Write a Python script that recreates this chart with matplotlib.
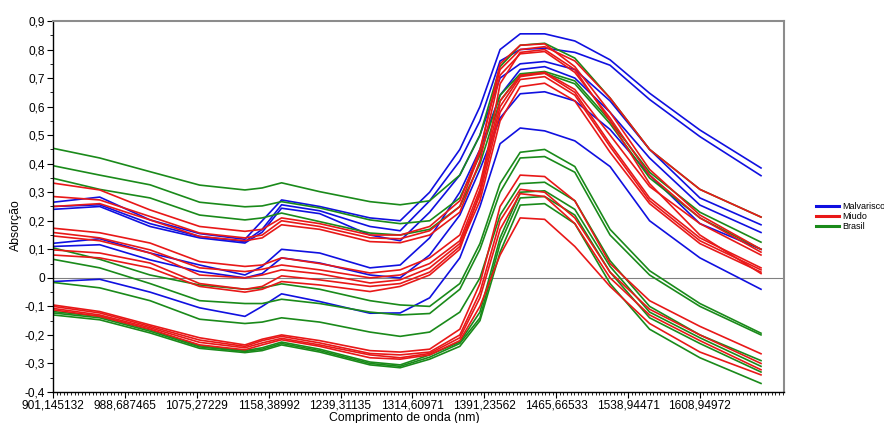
import matplotlib
matplotlib.use("Agg")
import matplotlib.pyplot as plt
from matplotlib.ticker import MultipleLocator, FixedLocator
from matplotlib.lines import Line2D

plt.rcParams['font.family'] = ['Liberation Sans', 'DejaVu Sans']

# spectral position (variable index) of the read points
x_pos = [0, 6.5, 13.5, 20.4, 26.7, 29.1, 31.8, 37.1, 44.1, 48.3, 52.4,
         56.6, 59.4, 62.2, 65.0, 68.4, 72.6, 77.5, 83.0, 90.0, 98.5]

tick_index = [0, 10, 20, 30, 40, 50, 60, 70, 80, 90]
tick_labels = ['901,145132', '988,687465', '1075,27229', '1158,38992', '1239,31135',
               '1314,60971', '1391,23562', '1465,66533', '1538,94471', '1608,94972']

malvarisco = [
    [0.265, 0.283, 0.203, 0.155, 0.135, 0.20, 0.273, 0.25, 0.21, 0.20, 0.30, 0.45, 0.60, 0.80, 0.855, 0.855, 0.83, 0.764, 0.647, 0.518, 0.385],
    [0.25, 0.256, 0.19, 0.145, 0.127, 0.17, 0.256, 0.235, 0.18, 0.165, 0.27, 0.41, 0.55, 0.76, 0.80, 0.805, 0.79, 0.745, 0.625, 0.495, 0.358],
    [0.24, 0.25, 0.18, 0.14, 0.122, 0.16, 0.244, 0.225, 0.15, 0.13, 0.23, 0.36, 0.50, 0.70, 0.75, 0.758, 0.73, 0.62, 0.45, 0.28, 0.186],
    [0.121, 0.137, 0.087, 0.045, 0.01, 0.04, 0.10, 0.087, 0.035, 0.045, 0.14, 0.30, 0.45, 0.64, 0.73, 0.74, 0.70, 0.58, 0.42, 0.255, 0.159],
    [0.11, 0.116, 0.063, 0.022, 0.0, 0.015, 0.07, 0.052, 0.01, 0.0, 0.08, 0.22, 0.38, 0.56, 0.645, 0.652, 0.62, 0.52, 0.36, 0.19, 0.10],
    [-0.013, -0.005, -0.05, -0.105, -0.135, -0.10, -0.056, -0.083, -0.124, -0.123, -0.07, 0.07, 0.25, 0.47, 0.525, 0.515, 0.48, 0.39, 0.20, 0.07, -0.04],
]

miudo = [
    [0.332, 0.308, 0.238, 0.18, 0.163, 0.17, 0.21, 0.19, 0.15, 0.15, 0.18, 0.27, 0.45, 0.73, 0.80, 0.81, 0.76, 0.63, 0.45, 0.31, 0.213],
    [0.285, 0.273, 0.215, 0.157, 0.14, 0.15, 0.20, 0.18, 0.14, 0.137, 0.165, 0.25, 0.44, 0.75, 0.815, 0.82, 0.74, 0.58, 0.38, 0.22, 0.10],
    [0.25, 0.26, 0.203, 0.145, 0.13, 0.14, 0.186, 0.17, 0.127, 0.123, 0.15, 0.23, 0.41, 0.71, 0.785, 0.793, 0.72, 0.56, 0.36, 0.21, 0.09],
    [0.174, 0.158, 0.122, 0.057, 0.04, 0.045, 0.07, 0.05, 0.017, 0.028, 0.07, 0.15, 0.33, 0.62, 0.71, 0.72, 0.66, 0.50, 0.32, 0.19, 0.08],
    [0.159, 0.14, 0.098, 0.035, 0.022, 0.03, 0.045, 0.028, 0.0, 0.01, 0.05, 0.13, 0.31, 0.60, 0.705, 0.717, 0.65, 0.47, 0.28, 0.14, 0.035],
    [0.147, 0.13, 0.087, 0.01, 0.0, 0.01, 0.028, 0.014, -0.018, -0.007, 0.035, 0.12, 0.29, 0.58, 0.695, 0.705, 0.64, 0.46, 0.27, 0.13, 0.028],
    [0.098, 0.087, 0.052, -0.02, -0.04, -0.03, 0.007, -0.007, -0.03, -0.02, 0.02, 0.11, 0.27, 0.55, 0.67, 0.682, 0.62, 0.44, 0.26, 0.12, 0.02],
    [0.08, 0.07, 0.035, -0.03, -0.05, -0.04, -0.013, -0.025, -0.048, -0.03, 0.01, 0.10, 0.30, 0.68, 0.79, 0.80, 0.73, 0.55, 0.33, 0.15, 0.015],
    [-0.095, -0.118, -0.165, -0.21, -0.235, -0.215, -0.20, -0.22, -0.255, -0.26, -0.25, -0.18, -0.02, 0.25, 0.36, 0.355, 0.27, 0.05, -0.08, -0.17, -0.266],
    [-0.10, -0.123, -0.17, -0.218, -0.24, -0.22, -0.205, -0.228, -0.265, -0.27, -0.26, -0.20, -0.05, 0.20, 0.31, 0.30, 0.21, 0.02, -0.11, -0.20, -0.30],
    [-0.107, -0.13, -0.175, -0.226, -0.245, -0.228, -0.212, -0.235, -0.27, -0.28, -0.265, -0.21, -0.07, 0.17, 0.295, 0.285, 0.19, 0.0, -0.13, -0.22, -0.322],
    [-0.112, -0.135, -0.18, -0.235, -0.252, -0.235, -0.217, -0.24, -0.28, -0.285, -0.27, -0.22, -0.10, 0.08, 0.21, 0.205, 0.11, -0.03, -0.16, -0.26, -0.34],
]

brasil = [
    [0.454, 0.42, 0.372, 0.325, 0.308, 0.315, 0.333, 0.302, 0.267, 0.256, 0.27, 0.36, 0.50, 0.74, 0.815, 0.822, 0.77, 0.63, 0.45, 0.31, 0.213],
    [0.393, 0.36, 0.326, 0.265, 0.249, 0.252, 0.267, 0.245, 0.203, 0.19, 0.20, 0.28, 0.43, 0.64, 0.715, 0.723, 0.69, 0.55, 0.37, 0.23, 0.125],
    [0.349, 0.31, 0.28, 0.22, 0.203, 0.21, 0.227, 0.197, 0.157, 0.15, 0.17, 0.25, 0.40, 0.62, 0.71, 0.717, 0.68, 0.54, 0.35, 0.21, 0.10],
    [0.105, 0.065, 0.01, -0.025, -0.04, -0.035, -0.021, -0.04, -0.08, -0.095, -0.10, -0.02, 0.12, 0.33, 0.44, 0.45, 0.39, 0.17, 0.025, -0.09, -0.194],
    [0.065, 0.035, -0.02, -0.08, -0.09, -0.09, -0.075, -0.09, -0.12, -0.13, -0.125, -0.04, 0.10, 0.30, 0.42, 0.425, 0.37, 0.15, 0.01, -0.10, -0.20],
    [-0.016, -0.035, -0.08, -0.145, -0.16, -0.155, -0.14, -0.155, -0.19, -0.205, -0.19, -0.12, 0.0, 0.22, 0.33, 0.335, 0.27, 0.06, -0.10, -0.20, -0.29],
    [-0.118, -0.135, -0.182, -0.238, -0.255, -0.245, -0.225, -0.25, -0.295, -0.305, -0.27, -0.225, -0.12, 0.14, 0.30, 0.305, 0.24, 0.04, -0.12, -0.21, -0.31],
    [-0.123, -0.14, -0.187, -0.242, -0.258, -0.25, -0.23, -0.255, -0.30, -0.31, -0.278, -0.23, -0.14, 0.12, 0.28, 0.285, 0.22, 0.02, -0.14, -0.23, -0.33],
    [-0.13, -0.147, -0.193, -0.247, -0.262, -0.255, -0.235, -0.26, -0.305, -0.315, -0.285, -0.24, -0.15, 0.09, 0.255, 0.26, 0.19, -0.02, -0.18, -0.28, -0.37],
]

groups = ['Malvarisco', 'Miudo', 'Brasil']
colors = {'Malvarisco': '#1010e0', 'Miudo': '#e81818', 'Brasil': '#1a8a1a'}
data = {'Malvarisco': malvarisco, 'Miudo': miudo, 'Brasil': brasil}

fig = plt.figure(figsize=(8.84, 4.23), dpi=100)
ax = fig.add_axes([53/884, 1 - 392/423, (784 - 53)/884, (392 - 21)/423])

ax.axhline(0, color='#808080', lw=0.8, zorder=1)

for g in ['Malvarisco', 'Brasil', 'Miudo']:
    for ys in data[g]:
        ax.plot(x_pos, ys, color=colors[g], lw=1.2, zorder=2)

ax.set_xlim(0, 101.7)
ax.set_ylim(-0.4, 0.9)

ax.xaxis.set_major_locator(FixedLocator(tick_index))
ax.set_xticklabels(tick_labels)
ax.xaxis.set_minor_locator(MultipleLocator(0.5))
yt = [round(-0.4 + 0.1 * i, 1) for i in range(14)]
ax.set_yticks(yt)
ax.set_yticklabels(['0' if abs(v) < 1e-9 else ('%.1f' % v).replace('.', ',') for v in yt])
ax.yaxis.set_minor_locator(MultipleLocator(0.05))

ax.tick_params(axis='both', which='major', labelsize=8.6, length=4, width=0.8, color='black', pad=1.5)
ax.tick_params(axis='both', which='minor', length=2.5, width=0.6, color='black')

for s in ['top', 'right']:
    ax.spines[s].set_color('#8c8c8c')
    ax.spines[s].set_linewidth(1.5)
for s in ['left', 'bottom']:
    ax.spines[s].set_color('black')
    ax.spines[s].set_linewidth(1.0)

ax.set_xlabel('Comprimento de onda (nm)', fontsize=8.8, labelpad=1)
ax.xaxis.set_label_coords(0.48, -0.055)
ax.set_ylabel('Absorção', fontsize=8.8, labelpad=2)
ax.yaxis.set_label_coords(-0.042, 0.45)

handles = [Line2D([0], [0], color=colors[g], lw=2.2) for g in groups]
fig.legend(handles, groups, loc='upper left', bbox_to_anchor=(816/884, 1 - 202/423),
           frameon=False, fontsize=6.5, handlelength=2.6, handletextpad=0.3,
           labelspacing=0.1, borderpad=0, borderaxespad=0)

fig.savefig('out.png', dpi=100)
